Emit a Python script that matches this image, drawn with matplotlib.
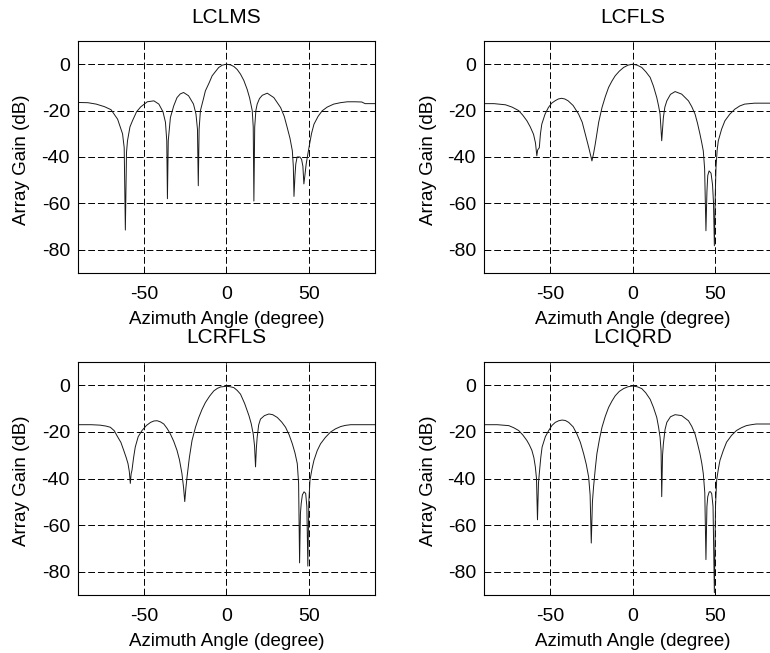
import matplotlib
matplotlib.use("Agg")
import matplotlib.pyplot as plt

plt.rcParams['font.family'] = ['Liberation Sans', 'DejaVu Sans']
plt.rcParams['axes.unicode_minus'] = False

titles = ["LCLMS", "LCFLS", "LCRFLS", "LCIQRD"]

# beam patterns (angle in degree, gain in dB)
lclms_angle = [-90, -84, -79, -74, -70, -66, -63, -62, -61.3, -60.6, -60, -58.5, -57, -54.5, -52, -48, -44, -41,
               -38.5, -37, -36.2, -35.8, -35.3, -34, -32, -30, -28, -26, -23, -20, -18.5, -17.6, -17.1, -16.6,
               -15.8, -14, -12.8, -10.5, -8.7, -6.5, -4.7, -2.5, 0, 2.5, 4.5, 6.5, 8.5, 10.5, 12.5, 14, 15.6,
               16.2, 16.6, 17.1, 17.8, 18.6, 20, 21.7, 24.7, 28.7, 32.8, 35, 36.8, 38.5, 39.9, 40.5, 40.9, 41.5,
               42, 42.8, 44.5, 45.5, 46.3, 46.9, 47.5, 48.3, 49, 50, 51.5, 53, 55.5, 58, 61, 65, 69, 73.3, 78,
               82, 84, 90]
lclms_gain = [-16.5, -16.6, -17.2, -18.3, -19.6, -23.7, -30, -36, -71.5, -38, -33, -27, -24.4, -20.5, -18.4,
              -16.2, -15.8, -17.2, -20.5, -25, -33, -58, -33, -23, -18, -14.4, -12.8, -12.2, -13.6, -17.2,
              -21.5, -28, -52.4, -28, -20, -15, -11.5, -8, -5, -3, -1.4, -0.4, 0, -0.3, -1, -2.3, -4.3, -7,
              -10.8, -14.5, -20, -27, -59, -27, -20, -17.2, -14.8, -13.4, -12.5, -14.4, -18.7, -22.5, -27.3,
              -32, -37.3, -44, -57, -48, -43, -40, -40, -41, -44, -51.6, -48, -43, -40, -35.9, -30, -25.9,
              -22.5, -20.1, -18.5, -17.2, -16.6, -16.2, -16.2, -16.3, -17, -17]

lcfls_angle = [-90, -84, -77, -73, -69, -66.5, -64, -62, -60, -58.8, -58, -57.5, -56.5, -55.8, -55, -53, -51,
               -49, -47, -45, -43, -41, -39, -36, -32.7, -30.5, -28.6, -26.5, -24.6, -23.6, -22.6, -20.5,
               -18.5, -16.5, -14.5, -12.5, -10.5, -8, -5.4, -2.7, 0, 2.8, 5.6, 8, 10.7, 12.7, 14.7, 15.8,
               16.7, 17.7, 18.7, 19.6, 20.8, 23, 25.8, 29.8, 33.9, 35.9, 37.9, 39.4, 40.9, 42, 42.9, 43.7,
               44.5, 45.1, 45.6, 46.4, 47.6, 48.5, 49.1, 49.6, 50.2, 50.6, 51.3, 52, 54, 56, 59, 62, 65, 68,
               74, 90]
lcfls_gain = [-17, -17, -17.5, -18.5, -20, -22, -24.4, -27, -30.2, -34, -39.5, -37, -36, -30, -25.9, -21.5,
              -18.7, -16.8, -15.8, -15, -14.7, -15, -15.8, -17.8, -21.5, -25, -30.2, -36, -41.7, -38.5,
              -34.5, -25, -18.7, -14, -10, -7.3, -5, -3, -1.4, -0.4, 0, -0.4, -1.4, -3.2, -5.7, -9.5, -14.4,
              -18, -21.5, -33, -23, -18.5, -15.8, -13, -11.8, -12.9, -15.8, -18.3, -21.5, -25.5, -30.2, -34,
              -37.4, -45, -71.8, -55, -48, -46, -47, -52, -60, -78.3, -55, -44.5, -37, -33, -28, -24.4,
              -21.5, -19.4, -18, -17.2, -16.8, -16.8]

lcrfls_angle = [-90, -82, -76.5, -73, -70.4, -68, -66.4, -64, -62.3, -60.8, -59.7, -58.9, -58.3, -57.8, -57.3,
                -56.3, -55.3, -53.5, -51.2, -48.5, -46, -44, -42, -40, -38, -36, -34, -32, -30, -28.5, -27,
                -26, -25.3, -24.6, -23.9, -22.5, -20.9, -18.8, -16.8, -14.8, -12.8, -10.2, -7.7, -5.5, -3.6,
                0, 2.2, 4.5, 6.5, 8.5, 11, 13.6, 15, 16.2, 17, 17.6, 18.1, 18.6, 19.5, 20.6, 23, 25.7, 28,
                30.8, 33.5, 35.8, 38, 39.9, 41.5, 42.9, 43.7, 44.3, 44.8, 45.3, 46, 47, 48, 48.7, 49.3, 49.9,
                50.6, 51.8, 53, 55, 57, 60, 63, 66, 69.2, 72, 75.3, 90]
lcrfls_gain = [-16.9, -16.9, -17.1, -17.5, -18, -19.5, -21.6, -24.5, -27.9, -31, -33.6, -37, -42.1, -38,
               -36.5, -31, -26.5, -22, -19.4, -17.2, -15.9, -15.3, -15.2, -15.7, -16.6, -18.5, -20.9, -24,
               -27.9, -32, -37.9, -44, -49.9, -44, -39.3, -31, -23.7, -18, -13.8, -10.3, -7.4, -4.6, -2.4,
               -1.3, -0.7, -0.4, -0.6, -1, -2.2, -3.8, -7.8, -13, -16.5, -20.9, -26, -35, -27, -22.3, -17,
               -14.5, -13, -12.3, -12.6, -13.8, -15.8, -18, -21.3, -25.1, -29, -33.6, -42, -76.2, -55, -50.6,
               -47, -45.7, -46.4, -52, -77.6, -50, -40.7, -36, -32.2, -28, -25.1, -22.3, -20.1, -18.7, -17.7,
               -17.2, -16.9, -16.9]

lciqrd_angle = [-90, -82, -75, -72, -69, -66.5, -64, -62.5, -61, -59.8, -58.9, -58.2, -57.6, -57, -56.5, -55.6,
                -54.8, -52.8, -50.8, -48.8, -46.8, -44.7, -42.7, -40.7, -38.7, -36, -33.7, -31.6, -29.6, -28,
                -26.6, -25.7, -25, -24.3, -23.6, -22.6, -21.6, -20, -18.5, -16.5, -14.5, -12.5, -10.5, -8,
                -5.4, -2.7, 0, 2.8, 5.6, 8, 10.7, 12.7, 14.7, 15.8, 16.7, 17.3, 17.7, 18.2, 18.7, 19.7, 20.8,
                23, 25.8, 29.8, 33.9, 35.9, 37.9, 39.4, 40.9, 42, 42.9, 43.8, 44.5, 45.1, 45.6, 46.5, 47.3,
                48, 48.8, 49.6, 50.3, 51, 52, 53, 55, 57, 60, 63, 66, 69, 72, 75, 90]
lciqrd_gain = [-16.9, -16.9, -17.3, -18.2, -19.4, -21.3, -23.7, -25.6, -27.9, -31, -35, -40, -57.7, -42,
               -37.9, -31, -26.5, -22, -19.4, -17.2, -15.9, -15.2, -14.9, -15.1, -15.9, -17.8, -20.9, -24.5,
               -29.4, -34, -39.3, -47, -67.7, -50, -43.5, -36, -29.4, -23, -18, -13.3, -9.5, -6.8, -4.5,
               -2.6, -1.4, -0.6, -0.3, -0.6, -1.4, -3.2, -6, -9.5, -13.8, -18, -22.3, -28, -47.8, -30, -25.1,
               -19, -15.9, -13.5, -12.6, -13, -15.2, -17.6, -20.9, -25, -29.4, -33.5, -37.9, -46, -74.8, -52,
               -47.8, -45.7, -45.7, -46.5, -52, -89, -52, -40.7, -36, -32.2, -28, -24.4, -21.5, -19.4, -18.2,
               -17.3, -16.9, -16.6, -16.6]

angles = [lclms_angle, lcfls_angle, lcrfls_angle, lciqrd_angle]
gains = [lclms_gain, lcfls_gain, lcrfls_gain, lciqrd_gain]

x_ticks = [-50, 0, 50]
y_ticks = [0, -20, -40, -60, -80]

# axes boxes in figure fractions (the right column runs off the page)
boxes = [[0.1013, 0.582, 0.3857, 0.3552],
         [0.6286, 0.582, 0.3857, 0.3552],
         [0.1013, 0.0888, 0.3857, 0.3568],
         [0.6286, 0.0888, 0.3857, 0.3568]]


def draw_panel(ax, angle, gain, title, top_row):
	ax.plot(angle, gain, color='#1a1a1a', linewidth=0.7)
	ax.set_xlim(-90, 90)
	ax.set_ylim(-90, 10)
	ax.set_xticks(x_ticks)
	ax.set_yticks(y_ticks)
	ax.grid(True, color='black', linestyle=(0, (7, 3)), linewidth=0.7)
	ax.tick_params(direction='in', length=3, width=0.5, labelsize=14, top=True, right=True)
	ax.tick_params(axis='x', pad=9.4)
	ax.tick_params(axis='y', pad=5.8)
	for spine in ax.spines.values():
		spine.set_linewidth(0.8)
	ax.set_title(title, fontsize=15, pad=13 if top_row else 14)
	ax.set_xlabel("Azimuth Angle (degree)", fontsize=13.5)
	ax.set_ylabel("Array Gain (dB)", fontsize=13.5)
	ax.xaxis.set_label_coords(0.5, -0.163)
	ax.yaxis.set_label_coords(-0.16, 0.49)


fig = plt.figure(figsize=(7.7, 6.53), dpi=100)

for i in range(4):
	ax = fig.add_axes(boxes[i])
	draw_panel(ax, angles[i], gains[i], titles[i], i < 2)

fig.savefig("out.png", dpi=100)
